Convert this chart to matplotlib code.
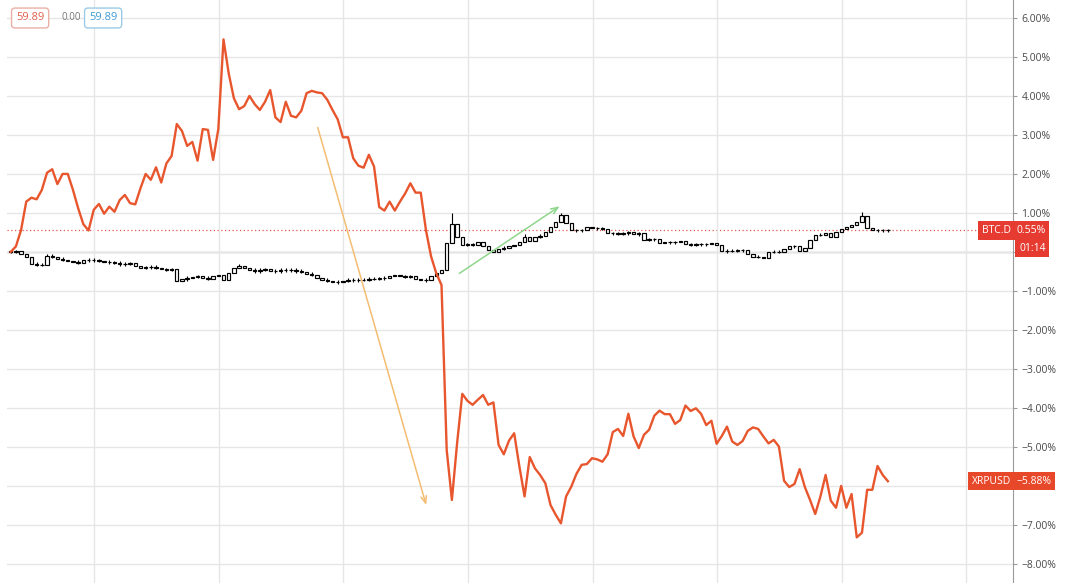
import matplotlib.pyplot as plt
import matplotlib.transforms as mtransforms

plt.rcParams["font.family"] = ["Open Sans", "DejaVu Sans"]

# XRPUSD, % change from the first bar (one value per hourly bar).
xrp_pct = [
    0.00, 0.14, 0.56, 1.29, 1.39, 1.35, 1.59, 2.03, 2.12, 1.74,
    2.00, 2.00, 1.59, 1.12, 0.71, 0.55, 1.08, 1.23, 0.98, 1.16,
    1.03, 1.33, 1.46, 1.25, 1.22, 1.63, 2.00, 1.85, 2.17, 1.78,
    2.27, 2.46, 3.28, 3.10, 2.72, 2.82, 2.34, 3.15, 3.13, 2.36,
    3.15, 5.45, 4.58, 3.94, 3.66, 3.74, 4.00, 3.79, 3.64, 3.85,
    4.15, 3.45, 3.33, 3.85, 3.49, 3.45, 3.62, 4.07, 4.13, 4.09,
    4.07, 3.90, 3.64, 3.40, 2.94, 2.94, 2.40, 2.21, 2.16, 2.49,
    2.19, 1.15, 1.06, 1.29, 1.06, 1.29, 1.50, 1.76, 1.52, 1.52,
    0.56, -0.12, -0.55, -0.85, -5.08, -6.36, -4.91, -3.64, -3.82, -3.92,
    -3.79, -3.67, -3.92, -3.86, -4.95, -5.19, -4.84, -4.65, -5.50, -6.27,
    -5.26, -5.55, -5.72, -5.93, -6.49, -6.74, -6.96, -6.27, -6.02, -5.69,
    -5.46, -5.44, -5.29, -5.32, -5.38, -5.19, -4.62, -4.54, -4.72, -4.15,
    -4.73, -5.03, -4.69, -4.56, -4.20, -4.07, -4.16, -4.16, -4.41, -4.31,
    -3.94, -4.08, -4.01, -4.15, -4.44, -4.33, -4.92, -4.72, -4.48, -4.86,
    -4.95, -4.85, -4.59, -4.50, -4.54, -4.73, -4.91, -4.82, -4.99, -5.87,
    -6.03, -5.95, -5.57, -6.03, -6.36, -6.72, -6.27, -5.72, -6.38, -6.56,
    -6.00, -6.56, -6.21, -7.32, -7.20, -6.10, -6.10, -5.49, -5.72, -5.88,
]

# BTC.D closes, % change from the first bar.
btcd_close = [
    0.00, 0.02, -0.05, -0.13, -0.31, -0.33, -0.33, -0.10, -0.12, -0.18,
    -0.20, -0.23, -0.26, -0.28, -0.22, -0.20, -0.21, -0.23, -0.26, -0.27,
    -0.28, -0.31, -0.30, -0.29, -0.36, -0.41, -0.39, -0.38, -0.41, -0.44,
    -0.46, -0.45, -0.74, -0.70, -0.67, -0.64, -0.62, -0.67, -0.69, -0.63,
    -0.60, -0.72, -0.55, -0.40, -0.36, -0.41, -0.46, -0.49, -0.46, -0.44,
    -0.49, -0.49, -0.46, -0.47, -0.46, -0.49, -0.51, -0.56, -0.59, -0.67,
    -0.72, -0.74, -0.77, -0.77, -0.74, -0.72, -0.72, -0.71, -0.71, -0.69,
    -0.69, -0.68, -0.67, -0.62, -0.59, -0.62, -0.64, -0.63, -0.69, -0.72,
    -0.72, -0.62, -0.54, -0.46, 0.22, 0.71, 0.38, 0.18, 0.20, 0.18,
    0.26, 0.16, 0.05, 0.01, 0.08, 0.10, 0.15, 0.18, 0.26, 0.39,
    0.27, 0.39, 0.41, 0.52, 0.64, 0.78, 0.95, 0.74, 0.56, 0.56,
    0.56, 0.65, 0.61, 0.61, 0.60, 0.48, 0.48, 0.47, 0.48, 0.50,
    0.45, 0.48, 0.31, 0.32, 0.32, 0.22, 0.25, 0.25, 0.25, 0.28,
    0.20, 0.18, 0.20, 0.20, 0.20, 0.24, 0.18, 0.02, 0.03, 0.03,
    0.04, 0.04, -0.05, -0.12, -0.12, -0.15, 0.01, 0.00, 0.01, 0.07,
    0.15, 0.14, 0.03, 0.10, 0.31, 0.44, 0.44, 0.48, 0.39, 0.52,
    0.60, 0.65, 0.69, 0.78, 0.92, 0.61, 0.55, 0.56, 0.56, 0.55,
]
btcd_high = {7: -0.05, 44: -0.30, 49: -0.40, 85: 1.00, 99: 0.45, 106: 1.00, 164: 1.03}

# hand-drawn trend arrows: (bar, %) start -> end
orange_arrow = [(59.0, 3.26), (80.2, -6.56)]
green_arrow = [(86.0, -0.59), (106.2, 1.21)]

y_ticks = list(range(-8, 7))
hidden_ticks = [0, -6]  # covered by the price labels
day_lines = [16.1 + 24 * k for k in range(8)]

fig = plt.figure(figsize=(10.8, 5.83), dpi=100)
ax = fig.add_axes([7 / 1080, 0, 1006 / 1080, 1])
ax.set_xlim(-0.71, 193.1)
ax.set_ylim(-8.49, 6.46)

# grid
ax.set_yticks(y_ticks)
ax.set_xticks(day_lines)
ax.grid(True, color="#e6e6e6", lw=1.0, zorder=0)
ax.axhline(0, color="#b8b8b8", lw=1.0, zorder=1)
ax.axhline(btcd_close[-1], color="#e0584f", lw=0.9, ls=(0, (1, 2)), zorder=1)

# BTC.D candles (hollow)
n = len(btcd_close)
opens = [btcd_close[0] + 0.02] + btcd_close[:-1]
for i in range(n):
    o, c = opens[i], btcd_close[i]
    lo, hi = min(o, c), max(o, c)
    top = btcd_high.get(i, hi + 0.04 if hi - lo < 0.03 else hi)
    bot = lo - 0.04 if hi - lo < 0.03 else lo
    ax.vlines(i, bot, top, color="black", lw=0.8, zorder=3)
    ax.bar(i, hi - lo, bottom=lo, width=0.65, color="white",
           edgecolor="black", lw=0.85, zorder=4)

# XRPUSD line
ax.plot(range(len(xrp_pct)), xrp_pct, color="#e8562e", lw=1.7, zorder=5)

ax.annotate("", xy=orange_arrow[1], xytext=orange_arrow[0],
            arrowprops=dict(arrowstyle="->,head_length=0.5,head_width=0.2",
                            color="#f3bd72", lw=1.1), zorder=6)
ax.annotate("", xy=green_arrow[1], xytext=green_arrow[0],
            arrowprops=dict(arrowstyle="->,head_length=0.5,head_width=0.2",
                            color="#8fd68c", lw=1.1), zorder=6)

# axes look
for side in ["top", "left", "bottom"]:
    ax.spines[side].set_visible(False)
ax.spines["right"].set_color("#9a9a9a")
ax.yaxis.tick_right()
ax.set_yticklabels(["" if v in hidden_ticks else f"{v:.2f}%".replace("-", "\u2212")
                    for v in y_ticks])
ax.tick_params(axis="y", length=3, color="#9a9a9a", labelsize=7.5,
               labelcolor="#4a4a4a", pad=3)
ax.tick_params(axis="x", length=0, labelbottom=False)

# price labels on the scale
tr = mtransforms.blended_transform_factory(ax.transAxes, ax.transData)
red = "#e53b30"
box = dict(boxstyle="square,pad=0.35", fc=red, ec="none")
ax.text(0.998, btcd_close[-1], "BTC.D", transform=tr, ha="right", va="center",
        fontsize=7.5, color="white", clip_on=False, zorder=10, bbox=box)
ax.text(1.003, btcd_close[-1], "0.55%", transform=tr, ha="left", va="center",
        fontsize=7.5, color="white", clip_on=False, zorder=10, bbox=box)
ax.text(1.006, btcd_close[-1] - 0.45, "01:14", transform=tr, ha="left", va="center",
        fontsize=7.5, color="white", clip_on=False, zorder=10, bbox=box)
xbox = dict(boxstyle="square,pad=0.35", fc="#e8482a", ec="none")
ax.text(0.998, xrp_pct[-1], "XRPUSD", transform=tr, ha="right", va="center",
        fontsize=7.5, color="white", clip_on=False, zorder=10, bbox=xbox)
ax.text(1.003, xrp_pct[-1], "\u22125.88%", transform=tr, ha="left", va="center",
        fontsize=7.5, color="white", clip_on=False, zorder=10, bbox=xbox)

# legend values top-left
fig.text(16 / 1080, 1 - 18 / 583, "59.89", fontsize=8, color="#e0604c", va="center",
         bbox=dict(boxstyle="round,pad=0.4,rounding_size=0.3", fc="white", ec="#eab0a6"))
fig.text(61 / 1080, 1 - 18 / 583, "0.00", fontsize=7, color="#777777", va="center")
fig.text(89 / 1080, 1 - 18 / 583, "59.89", fontsize=8, color="#3d9bd3", va="center",
         bbox=dict(boxstyle="round,pad=0.4,rounding_size=0.3", fc="white", ec="#9ccbe8"))

fig.savefig("out.png", dpi=100, facecolor="white")
